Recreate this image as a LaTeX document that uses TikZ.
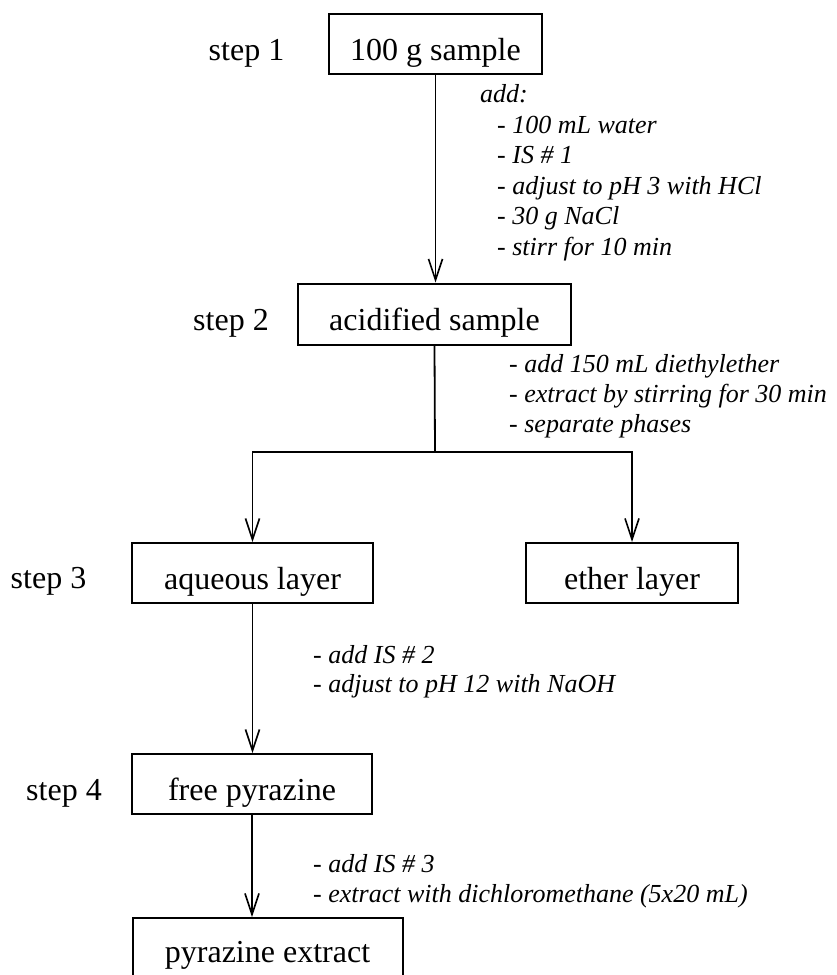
\documentclass[tikz,border=0pt]{standalone}
\usepackage{fontspec}
\setmainfont{Liberation Serif}
\usetikzlibrary{arrows.meta}
\begin{document}
\begin{tikzpicture}[x=1pt,y=-1pt,
  box/.style={draw,line width=2pt,inner sep=0pt,text height=32pt,text depth=0pt,font=\fontsize{32}{38}\selectfont},
  steplabel/.style={inner sep=0pt,anchor=base,font=\fontsize{32}{38}\selectfont},
  note/.style={inner sep=0pt,anchor=base west,font=\fontsize{26}{30}\selectfont\itshape},
  conn/.style={line width=1.8pt},
  arr/.style={line width=1.8pt,-{Straight Barb[length=21pt,width=14pt,line width=1.6pt]}}]
\useasboundingbox (0,0) rectangle (837,975);
% boxes
\node[box,minimum width=213pt,minimum height=60pt] (b1) at (435.5,44) {100 g sample};
\node[box,minimum width=273pt,minimum height=61pt] (b2) at (434.5,314) {acidified sample};
\node[box,minimum width=241pt,minimum height=60pt] (b3) at (252.5,573) {aqueous layer};
\node[box,minimum width=212pt,minimum height=60pt] (b3e) at (632,573) {ether layer};
\node[box,minimum width=240pt,minimum height=60pt] (b4) at (252,784) {free pyrazine};
\begin{scope}
\clip (0,0) rectangle (837,975);
\node[box,text height=28pt,minimum width=270pt,minimum height=60pt] (b5) at (267.5,948) {pyrazine extract};
\end{scope}
% step labels
\node[steplabel] (s1) at (246.5,60) {step 1};
\node[steplabel] (s2) at (231,330) {step 2};
\node[steplabel] (s3) at (48.5,588) {step 3};
\node[steplabel] (s4) at (64,800) {step 4};
% notes
\node[note] (n1a) at (480,102) {add:};
\node[note] (n1b) at (497,133) {- 100 mL water};
\node[note] (n1c) at (497,163) {- IS \# 1};
\node[note] (n1d) at (497,194) {- adjust to pH 3 with HCl};
\node[note] (n1e) at (497,224) {- 30 g NaCl};
\node[note] (n1f) at (497,255) {- stirr for 10 min};
\node[note] (n2a) at (509,372) {- add 150 mL diethylether};
\node[note] (n2b) at (509,402) {- extract by stirring for 30 min};
\node[note] (n2c) at (509,432) {- separate phases};
\node[note] (n3a) at (313,663) {- add IS \# 2};
\node[note] (n3b) at (313,692) {- adjust to pH 12 with NaOH};
\node[note] (n4a) at (313,872) {- add IS \# 3};
\node[note] (n4b) at (313,902) {- extract with dichloromethane (5x20 mL)};
% connectors
\coordinate (split) at (435,452);
\draw[arr] (b1.south) -- (b1.south |- b2.north);
\draw[conn] (b2.south) -- (split);
\draw[arr] (split) -| (b3.north);
\draw[arr] (split) -| (b3e.north);
\draw[arr] (b3.south) -- (b3.south |- b4.north);
\draw[arr] (b4.south) -- (b4.south |- b5.north);
\end{tikzpicture}
\end{document}
